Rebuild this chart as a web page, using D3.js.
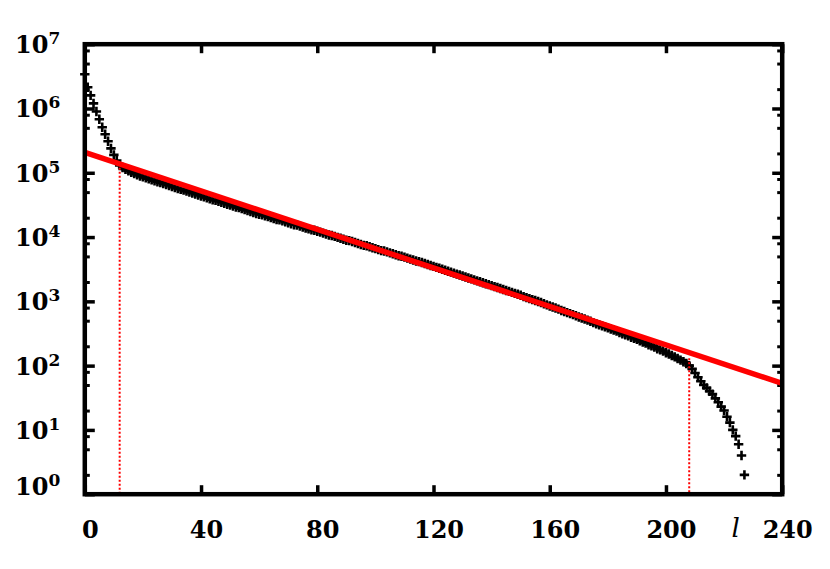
<!DOCTYPE html>
<html>
<head>
<meta charset="utf-8">
<title>Cluster size distribution</title>
<script src="https://d3js.org/d3.v7.min.js"></script>
<style>
  body { margin: 0; background: #ffffff; }
  text { font-family: "DejaVu Serif", serif; font-weight: bold; fill: #000; }
</style>
</head>
<body>
<script>
// counts, one per l = 0, 1, 2, ...
var counts = [
  3.4e6, 2.14e6, 1.6e6, 1.2e6, 9.0e5, 6.8e5, 5.1e5, 3.97e5, 3.09e5, 2.4e5,
  1.9e5, 1.55e5, 1.3e5, 120900, 113600, 107400, 101900, 97000, 92700, 89300,
  86250, 83330, 80510, 77780, 75150, 72600, 70150, 67770, 65470, 63260,
  61110, 59050, 57050, 55510, 53630, 51820, 50060, 48370, 46730, 45140,
  43610, 42140, 40710, 39330, 38000, 37240, 35980, 34760, 33580, 32440,
  31350, 30290, 29260, 28670, 27700, 26760, 25850, 24980, 24130, 23310,
  22530, 22240, 21490, 20760, 20060, 19380, 18720, 18480, 17850, 17250,
  16670, 16100, 15560, 15360, 14840, 14340, 13850, 13390, 12930, 12770,
  12330, 11920, 11510, 11120, 10750, 10600, 10240, 9897, 9562, 9238,
  8926, 8812, 8514, 8226, 7948, 7678, 7418, 7320, 7072, 6833,
  6601, 6377, 6161, 6084, 5878, 5678, 5486, 5300, 5121, 5035,
  4865, 4700, 4541, 4388, 4239, 4155, 4013, 3877, 3746, 3620,
  3496, 3378, 3263, 3153, 3046, 2943, 2843, 2747, 2654, 2564,
  2477, 2393, 2313, 2233, 2159, 2085, 2015, 1946, 1880, 1817,
  1756, 1696, 1638, 1584, 1530, 1478, 1427, 1379, 1332, 1287,
  1244, 1186, 1143, 1101, 1064, 1028, 994, 959, 915, 880,
  846, 816, 788, 758, 722, 694, 668, 644, 621, 598,
  572, 550, 530, 510, 490, 466, 449, 433, 418, 402,
  386, 371, 357, 344, 327, 314, 302, 291, 277, 266,
  256, 243, 233, 224, 211, 203, 194, 183, 176, 169,
  159, 152, 144, 137, 129, 122, 115, 108, 100, 89,
  77, 66, 57, 50, 45, 40, 36, 31, 27, 23,
  20, 16, 13, 10, 8, 6, 4, 2
];

var xTicks = [0, 40, 80, 120, 160, 200, 240];
var yDecades = [0, 1, 2, 3, 4, 5, 6, 7];
var yMinorMult = [2, 5, 8];

// exponential fit, drawn as a straight line on the log axis
var fitL = [0, 240];
var fitN = [2.07e5, 53];

// dotted markers of the fit window
var cutL = [12, 208];
var cutTop = [1.2e5, 130];

var margin = {top: 44.2, right: 47.8, bottom: 74.8, left: 84.8};
var width = 830 - margin.left - margin.right;
var height = 569 - margin.top - margin.bottom;

var svg = d3.select("body").append("svg")
    .attr("width", 830)
    .attr("height", 569);

var g = svg.append("g")
    .attr("transform", "translate(" + margin.left + "," + margin.top + ")");

var x = d3.scaleLinear().domain([0, 240]).range([0, width]);
var y = d3.scaleLog().domain([1, 1e7]).range([height, 0]);

var majors = yDecades.map(function(e) { return Math.pow(10, e); });
var minors = [];
yDecades.slice(0, -1).forEach(function(e) {
  yMinorMult.forEach(function(m) { minors.push(m * Math.pow(10, e)); });
});

function styleTicks(sel, w) {
  sel.select(".domain").remove();
  sel.selectAll(".tick line").attr("stroke", "#000").attr("stroke-width", w);
  sel.selectAll(".tick text").remove();
}

// ticks, all pointing into the frame
g.append("g").attr("transform", "translate(0," + height + ")")
  .call(d3.axisBottom(x).tickValues(xTicks).tickSizeInner(-9).tickSizeOuter(0))
  .call(styleTicks, 3.5);
g.append("g")
  .call(d3.axisTop(x).tickValues(xTicks).tickSizeInner(-9).tickSizeOuter(0))
  .call(styleTicks, 3.5);
g.append("g")
  .call(d3.axisLeft(y).tickValues(majors).tickSizeInner(-10).tickSizeOuter(0))
  .call(styleTicks, 3.5);
g.append("g")
  .call(d3.axisLeft(y).tickValues(minors).tickSizeInner(-5).tickSizeOuter(0))
  .call(styleTicks, 3);
g.append("g").attr("transform", "translate(" + width + ",0)")
  .call(d3.axisRight(y).tickValues(majors).tickSizeInner(-10).tickSizeOuter(0))
  .call(styleTicks, 3.5);
g.append("g").attr("transform", "translate(" + width + ",0)")
  .call(d3.axisRight(y).tickValues(minors).tickSizeInner(-5).tickSizeOuter(0))
  .call(styleTicks, 3);

// data points
var plus = "M-4.7,0H4.7M0,-4.7V4.7";
g.append("g")
  .selectAll("path")
  .data(counts)
  .enter()
  .append("path")
  .attr("d", plus)
  .attr("transform", function(d, i) { return "translate(" + x(i) + "," + y(d) + ")"; })
  .attr("fill", "none")
  .attr("stroke", "#000")
  .attr("stroke-width", 2.6);

// dotted verticals
g.append("g")
  .selectAll("line")
  .data(cutL)
  .enter()
  .append("line")
  .attr("x1", function(d) { return x(d); })
  .attr("x2", function(d) { return x(d); })
  .attr("y1", function(d, i) { return y(cutTop[i]); })
  .attr("y2", height)
  .attr("stroke", "#ff0000")
  .attr("stroke-width", 2)
  .attr("stroke-dasharray", "2,2");

// fit line
g.append("path")
  .datum(fitL.map(function(l, i) { return [l, fitN[i]]; }))
  .attr("d", d3.line().x(function(d) { return x(d[0]); }).y(function(d) { return y(d[1]); }))
  .attr("fill", "none")
  .attr("stroke", "#ff0000")
  .attr("stroke-width", 5.5);

// frame
g.append("rect")
  .attr("width", width)
  .attr("height", height)
  .attr("fill", "none")
  .attr("stroke", "#000")
  .attr("stroke-width", 4.5);

// x tick labels
g.append("g")
  .selectAll("text")
  .data(xTicks)
  .enter()
  .append("text")
  .attr("x", function(d) { return x(d) + 5.5; })
  .attr("y", height + 44)
  .attr("text-anchor", "middle")
  .style("font-size", "24px")
  .text(function(d) { return d; });

// axis name
g.append("text")
  .attr("x", x(224))
  .attr("y", height + 43)
  .attr("text-anchor", "middle")
  .style("font-size", "26px")
  .style("font-style", "italic")
  .style("font-weight", "normal")
  .text("l");

// y tick labels as 10 with superscript
var yl = g.append("g")
  .selectAll("text")
  .data(yDecades)
  .enter()
  .append("text")
  .attr("x", -24.5)
  .attr("y", function(d) { return y(Math.pow(10, d)) + (d === 0 ? 1 : 9); })
  .attr("text-anchor", "end")
  .style("font-size", "24px");
yl.append("tspan").text("10");
yl.append("tspan")
  .attr("dy", -9)
  .style("font-size", "17px")
  .text(function(d) { return d; });
</script>
</body>
</html>
